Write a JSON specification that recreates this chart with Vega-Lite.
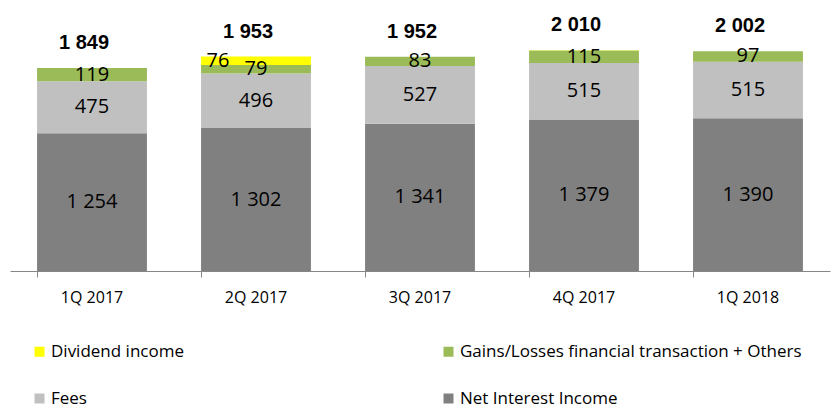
{
  "$schema": "https://vega.github.io/schema/vega-lite/v6.json",
  "width": 820,
  "height": 271,
  "autosize": {"type": "none"},
  "padding": {"left": 10, "top": 0, "right": 4, "bottom": 140},
  "config": {
    "view": {"stroke": null},
    "locale": {"number": {"decimal": ".", "thousands": " ", "grouping": [3], "currency": ["", ""]}},
    "font": "Open Sans"
  },
  "data": {
    "values": [
      {"quarter": "1Q 2017", "series": "Net Interest Income", "value": 1254, "order": 1},
      {"quarter": "1Q 2017", "series": "Fees", "value": 475, "order": 2},
      {"quarter": "1Q 2017", "series": "Gains/Losses financial transaction + Others", "value": 119, "order": 3},
      {"quarter": "1Q 2017", "series": "Dividend income", "value": 1, "order": 4},
      {"quarter": "2Q 2017", "series": "Net Interest Income", "value": 1302, "order": 1},
      {"quarter": "2Q 2017", "series": "Fees", "value": 496, "order": 2},
      {"quarter": "2Q 2017", "series": "Gains/Losses financial transaction + Others", "value": 79, "order": 3},
      {"quarter": "2Q 2017", "series": "Dividend income", "value": 76, "order": 4},
      {"quarter": "3Q 2017", "series": "Net Interest Income", "value": 1341, "order": 1},
      {"quarter": "3Q 2017", "series": "Fees", "value": 527, "order": 2},
      {"quarter": "3Q 2017", "series": "Gains/Losses financial transaction + Others", "value": 83, "order": 3},
      {"quarter": "3Q 2017", "series": "Dividend income", "value": 1, "order": 4},
      {"quarter": "4Q 2017", "series": "Net Interest Income", "value": 1379, "order": 1},
      {"quarter": "4Q 2017", "series": "Fees", "value": 515, "order": 2},
      {"quarter": "4Q 2017", "series": "Gains/Losses financial transaction + Others", "value": 115, "order": 3},
      {"quarter": "4Q 2017", "series": "Dividend income", "value": 1, "order": 4},
      {"quarter": "1Q 2018", "series": "Net Interest Income", "value": 1390, "order": 1},
      {"quarter": "1Q 2018", "series": "Fees", "value": 515, "order": 2},
      {"quarter": "1Q 2018", "series": "Gains/Losses financial transaction + Others", "value": 97, "order": 3},
      {"quarter": "1Q 2018", "series": "Dividend income", "value": 0, "order": 4}
    ]
  },
  "encoding": {
    "x": {
      "field": "quarter", "type": "nominal", "sort": null,
      "scale": {"paddingInner": 0.33, "paddingOuter": 0.165},
      "axis": {
        "title": null, "labelAngle": 0, "labelFontSize": 16, "labelColor": "#000000",
        "labelFont": "Open Sans", "domainColor": "#868686", "tickColor": "#868686",
        "tickSize": 6, "bandPosition": 0, "labelPadding": 12, "labelBaseline": "top"
      }
    }
  },
  "layer": [
    {
      "mark": {"type": "bar"},
      "encoding": {
        "y": {
          "field": "value", "type": "quantitative", "aggregate": "sum", "stack": "zero",
          "scale": {"domain": [0, 2468], "nice": false}, "axis": null
        },
        "color": {
          "field": "series", "type": "nominal",
          "scale": {
            "domain": ["Dividend income", "Fees", "Gains/Losses financial transaction + Others", "Net Interest Income"],
            "range": ["#ffff00", "#c0c0c0", "#9bbb59", "#808080"]
          },
          "legend": {
            "title": null, "orient": "none", "legendX": 21, "legendY": 343,
            "columns": 2, "columnPadding": 256, "rowPadding": 29, "labelLimit": 500,
            "symbolType": "square", "symbolSize": 100, "symbolStrokeWidth": 0,
            "labelFontSize": 17, "labelFont": "Open Sans", "labelColor": "#000000", "labelOffset": 3
          }
        },
        "order": {"field": "order", "type": "quantitative"}
      }
    },
    {
      "mark": {"type": "text", "fontSize": 20, "color": "#000000", "baseline": "middle"},
      "encoding": {
        "y": {"field": "value", "type": "quantitative", "stack": "zero", "bandPosition": 0.5},
        "order": {"field": "order", "type": "quantitative"},
        "text": {
          "condition": {"test": "datum.value >= 50 && datum.series != 'Dividend income'", "field": "value", "type": "quantitative", "format": ",d"},
          "value": ""
        }
      }
    },
    {
      "mark": {"type": "text", "fontSize": 20, "color": "#000000", "baseline": "middle", "dx": -38},
      "encoding": {
        "y": {"field": "value", "type": "quantitative", "stack": "zero", "bandPosition": 0.5},
        "order": {"field": "order", "type": "quantitative"},
        "text": {
          "condition": {"test": "datum.value >= 50 && datum.series == 'Dividend income'", "field": "value", "type": "quantitative", "format": ",d"},
          "value": ""
        }
      }
    },
    {
      "mark": {"type": "text", "fontSize": 20, "fontWeight": "bold", "font": "Liberation Sans", "color": "#000000", "baseline": "middle", "dy": -25, "dx": -8},
      "encoding": {
        "y": {"field": "value", "type": "quantitative", "aggregate": "sum"},
        "text": {"field": "value", "type": "quantitative", "aggregate": "sum", "format": ",d"}
      }
    }
  ]
}
